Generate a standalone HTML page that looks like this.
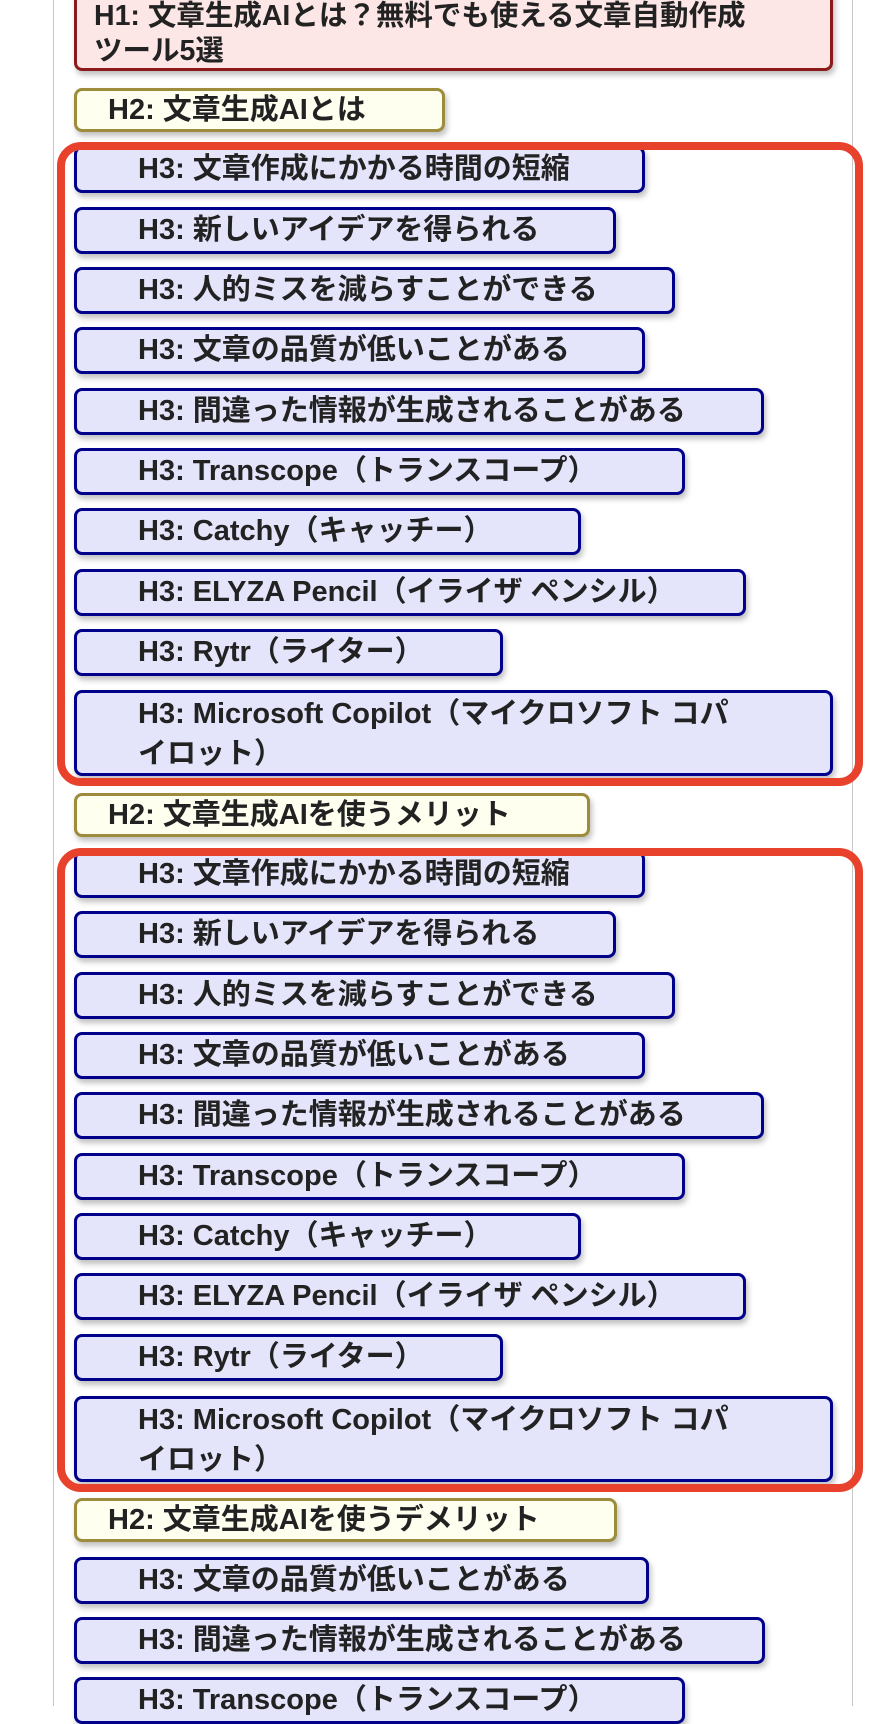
<!DOCTYPE html>
<html><head><meta charset="utf-8"><style>
html,body{margin:0;padding:0;background:#fff;}
body{width:896px;height:1706px;position:relative;overflow:hidden;font-family:"Liberation Sans","Noto Sans CJK JP",sans-serif;font-weight:bold;color:#222;}
.line{position:absolute;top:0;bottom:0;width:1px;background:#c8c8c8;}
.b{position:absolute;box-sizing:border-box;border-radius:8px;box-shadow:2px 4px 6px rgba(0,0,0,.25);white-space:nowrap;}
.h1{background:#fde6e6;border:3px solid #8b1a1a;font-size:28.5px;line-height:35px;padding:0 0 0 17px;white-space:normal;}
.h2{background:#fffff0;border:3px solid #9c8c3c;font-size:29px;line-height:38px;padding-left:31px;height:44px;}
.h3{background:#e4e4fb;border:3px solid #00008b;font-size:29px;line-height:41px;padding-left:61px;height:47px;}
.h3.two{height:86px;line-height:40px;white-space:normal;padding-top:1px;}
.red{position:absolute;left:57px;width:806px;box-sizing:border-box;border:8px solid #e8412c;border-radius:24px;overflow:hidden;}
.red .b{margin-left:-8px;}
</style></head><body>
<div class="line" style="left:53px"></div>
<div class="line" style="left:852px"></div>

<div class="b h1" style="left:74px;top:-12px;width:759px;height:83px;padding-top:8px;">H1: 文章生成AIとは？無料でも使える文章自動作成<br>ツール5選</div>
<div class="b h2" style="left:74px;top:88px;width:371px;">H2: 文章生成AIとは</div>

<div class="red" style="top:142px;height:644px;">
<div style="position:absolute;left:17px;top:-150px;">
<div class="b h3" style="left:0;top:146px;width:571px;">H3: 文章作成にかかる時間の短縮</div>
<div class="b h3" style="left:0;top:207px;width:542px;">H3: 新しいアイデアを得られる</div>
<div class="b h3" style="left:0;top:267px;width:601px;">H3: 人的ミスを減らすことができる</div>
<div class="b h3" style="left:0;top:327px;width:571px;">H3: 文章の品質が低いことがある</div>
<div class="b h3" style="left:0;top:388px;width:690px;">H3: 間違った情報が生成されることがある</div>
<div class="b h3" style="left:0;top:448px;width:611px;">H3: Transcope（トランスコープ）</div>
<div class="b h3" style="left:0;top:508px;width:507px;">H3: Catchy（キャッチー）</div>
<div class="b h3" style="left:0;top:569px;width:672px;">H3: ELYZA Pencil（イライザ ペンシル）</div>
<div class="b h3" style="left:0;top:629px;width:429px;">H3: Rytr（ライター）</div>
<div class="b h3 two" style="left:0;top:690px;width:759px;">H3: Microsoft Copilot（マイクロソフト コパ<br>イロット）</div>
</div></div>

<div class="b h2" style="left:74px;top:793px;width:516px;">H2: 文章生成AIを使うメリット</div>

<div class="red" style="top:848px;height:644px;">
<div style="position:absolute;left:17px;top:-856px;">
<div class="b h3" style="left:0;top:851px;width:571px;">H3: 文章作成にかかる時間の短縮</div>
<div class="b h3" style="left:0;top:911px;width:542px;">H3: 新しいアイデアを得られる</div>
<div class="b h3" style="left:0;top:972px;width:601px;">H3: 人的ミスを減らすことができる</div>
<div class="b h3" style="left:0;top:1032px;width:571px;">H3: 文章の品質が低いことがある</div>
<div class="b h3" style="left:0;top:1092px;width:690px;">H3: 間違った情報が生成されることがある</div>
<div class="b h3" style="left:0;top:1153px;width:611px;">H3: Transcope（トランスコープ）</div>
<div class="b h3" style="left:0;top:1213px;width:507px;">H3: Catchy（キャッチー）</div>
<div class="b h3" style="left:0;top:1273px;width:672px;">H3: ELYZA Pencil（イライザ ペンシル）</div>
<div class="b h3" style="left:0;top:1334px;width:429px;">H3: Rytr（ライター）</div>
<div class="b h3 two" style="left:0;top:1396px;width:759px;">H3: Microsoft Copilot（マイクロソフト コパ<br>イロット）</div>
</div></div>

<div class="b h2" style="left:74px;top:1498px;width:543px;">H2: 文章生成AIを使うデメリット</div>
<div class="b h3" style="left:74px;top:1557px;width:575px;">H3: 文章の品質が低いことがある</div>
<div class="b h3" style="left:74px;top:1617px;width:691px;">H3: 間違った情報が生成されることがある</div>
<div class="b h3" style="left:74px;top:1677px;width:611px;">H3: Transcope（トランスコープ）</div>
</body></html>
